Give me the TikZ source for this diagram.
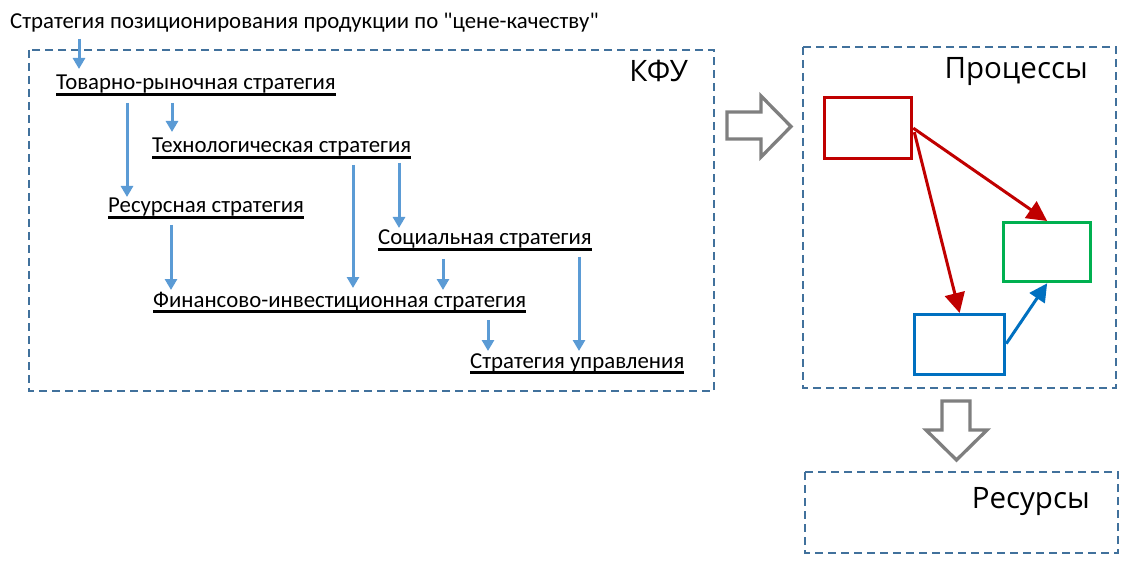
\documentclass[tikz,border=0pt]{standalone}
\usepackage{fontspec}
\setmainfont{Carlito}[Ligatures=TeXOff]
\newfontfamily\bigfont{Open Sans}
\usetikzlibrary{arrows.meta,calc}
\definecolor{dashblue}{HTML}{41719C}
\definecolor{arrblue}{HTML}{5B9BD5}
\definecolor{pred}{HTML}{C00000}
\definecolor{pgreen}{HTML}{00B050}
\definecolor{pblue}{HTML}{0070C0}
\definecolor{hgray}{HTML}{7F7F7F}
\tikzset{
  dbox/.style={draw=dashblue, line width=2pt, dash pattern=on 8pt off 5pt},
  lbl/.style={inner sep=0pt, anchor=base west, font=\fontsize{22.8}{26}\selectfont},
  biglbl/.style={inner sep=0pt, anchor=base east, font=\bigfont\fontsize{29.5}{34}\selectfont},
  ularr/.style={draw=arrblue, line width=3pt, -{Triangle[width=12pt,length=11pt]}},
  uline/.style={line width=2.2pt},
  pbox/.style={line width=3.3pt, inner sep=0pt},
  parr/.style={line width=3pt, -{Triangle[width=20pt,length=20pt]}},
  hollow/.style={draw=hgray, line width=3.3pt, fill=white, line join=miter},
}
\begin{document}
\begin{tikzpicture}[x=1pt,y=-1pt]
\useasboundingbox (0,0) rectangle (1130,564);
% dashed frames
\draw[dbox] (29,50) rectangle (714,391);
\draw[dbox] (803,47) rectangle (1116,388);
\draw[dbox] (805,472) rectangle (1118,553);
% big labels
\node[biglbl] (kfu) at (688,82) {КФУ};
\node[biglbl] (proc) at (1088,79) {Процессы};
\node[biglbl] (resl) at (1090,508) {Ресурсы};
% strategy texts
\node[lbl] (top) at (10,29) {Стратегия позиционирования продукции по "цене-качеству"};
\node[lbl] (tov) at (56,90) {Товарно-рыночная стратегия};
\node[lbl] (tech) at (152,153) {Технологическая стратегия};
\node[lbl] (res) at (108,213) {Ресурсная стратегия};
\node[lbl] (soc) at (378,245) {Социальная стратегия};
\node[lbl] (fin) at (153,307) {Финансово-инвестиционная стратегия};
\node[lbl] (upr) at (470,368) {Стратегия управления};
% underlines
\foreach \n in {tov,tech,res,soc,fin,upr}{
  \draw[uline] ($(\n.base west)+(0,4.5)$) -- ($(\n.base east)+(0,4.5)$);
}
% blue arrows
\draw[ularr] ($(top.base -| 79,0)+(0,10)$) -- ($(tov.base -| 79,0)+(0,-21)$);
\draw[ularr] ($(tov.base -| 127,0)+(0,13)$) -- ($(res.base -| 127,0)+(0,-16)$);
\draw[ularr] ($(tov.base -| 172,0)+(0,13)$) -- ($(tech.base -| 172,0)+(0,-21)$);
\draw[ularr] ($(tech.base -| 353,0)+(0,12)$) -- ($(fin.base -| 353,0)+(0,-19)$);
\draw[ularr] ($(tech.base -| 399,0)+(0,10)$) -- ($(soc.base -| 399,0)+(0,-17)$);
\draw[ularr] ($(res.base -| 171,0)+(0,12)$) -- ($(fin.base -| 171,0)+(0,-17)$);
\draw[ularr] ($(soc.base -| 443,0)+(0,14)$) -- ($(fin.base -| 443,0)+(0,-17)$);
\draw[ularr] ($(soc.base -| 579,0)+(0,12)$) -- ($(upr.base -| 579,0)+(0,-17)$);
\draw[ularr] ($(fin.base -| 488,0)+(0,13)$) -- ($(upr.base -| 488,0)+(0,-17)$);
% hollow arrows
\draw[hollow] (727,112) -- (761,112) -- (761,96) -- (791,126.5) -- (761,157) -- (761,139) -- (727,139) -- cycle;
\draw[hollow] (942,401) -- (970,401) -- (970,430) -- (987,430) -- (956.5,460) -- (926,430) -- (942,430) -- cycle;
% process boxes
\node[pbox, draw=pred, minimum width=87pt, minimum height=61pt, anchor=north west] (rb) at (823,96) {};
\node[pbox, draw=pgreen, minimum width=87pt, minimum height=59pt, anchor=north west] (gb) at (1002,221) {};
\node[pbox, draw=pblue, minimum width=90pt, minimum height=60pt, anchor=north west] (bb) at (913,313) {};
\draw[parr, draw=pred, fill=pred] (rb.east) -- (gb.north);
\draw[parr, draw=pred, fill=pred] ($(rb.east)+(1,4)$) -- (bb.north);
\draw[line width=3pt, draw=pblue, fill=pblue, -{Triangle[width=18pt,length=18pt]}] ($(bb.east)+(0,-1)$) -- (gb.south);
\end{tikzpicture}
\end{document}
